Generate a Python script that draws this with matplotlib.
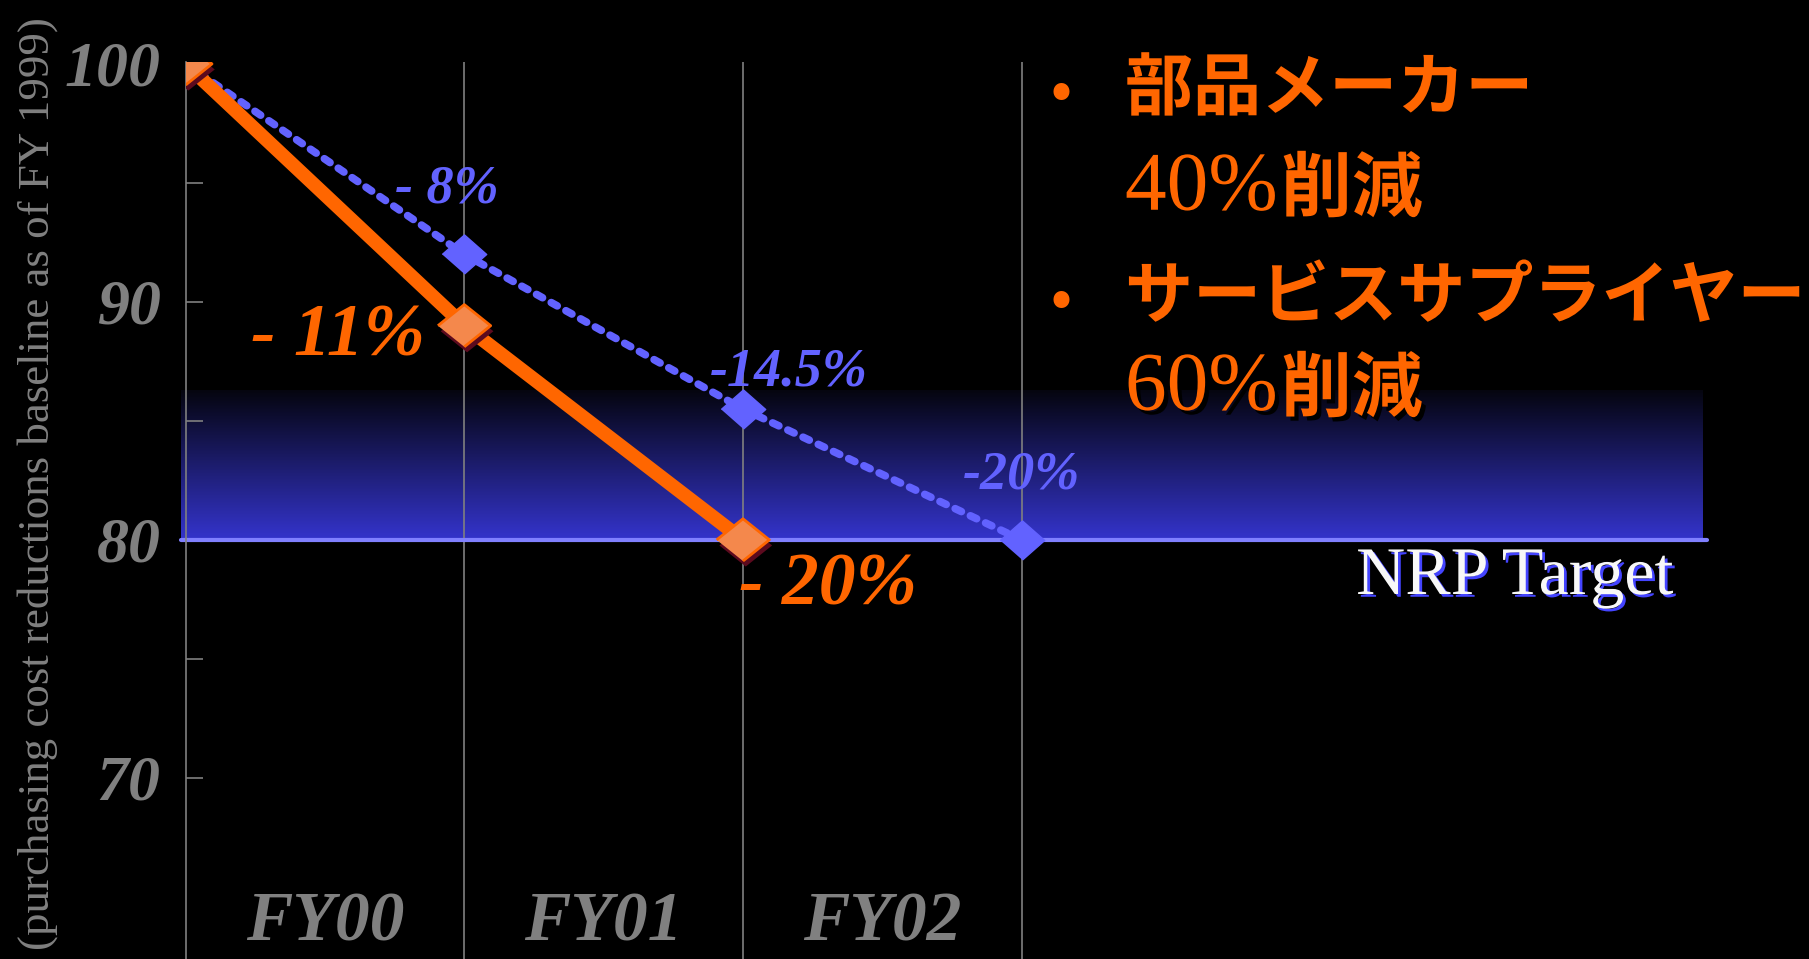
import numpy as np
import matplotlib.pyplot as plt
import matplotlib.patheffects as pe
from matplotlib.colors import LinearSegmentedColormap

# data
x_pos = [0, 1, 2, 3]
fy_labels = ['FY00', 'FY01', 'FY02']
parts_vals = [100, 89, 80]
svc_vals = [100, 92, 85.5, 80]
parts_labels = ['', '- 11%', '- 20%']
svc_labels = ['', '- 8%', '-14.5%', '-20%']
target = 80
band_top = 86.3
yticks = [70, 80, 90, 100]
yminor = [75, 85, 95]

ORANGE = '#ff6600'
BLUE = '#6262ff'
GRAY = '#808080'
SERIF = 'Liberation Serif'
CJK = 'Noto Sans CJK JP'

W, H = 1809, 959
fig = plt.figure(figsize=(W / 100, H / 100), dpi=100, facecolor='black')
ax = fig.add_axes([185.6 / W, 0, (1707 - 185.6) / W, 897 / H])
ax.set_facecolor('black')
ax.set_xlim(0, 5.459)
ax.set_ylim(62.39, 100.08)

for s in ['top', 'right', 'bottom']:
    ax.spines[s].set_visible(False)
ax.spines['left'].set_color(GRAY)
ax.spines['left'].set_linewidth(1.2)

# gradient band above target
cmap = LinearSegmentedColormap.from_list('band', ['#3434cc', '#05050f'])
grad = np.linspace(0, 1, 256).reshape(-1, 1)
ax.imshow(grad, cmap=cmap, aspect='auto', origin='lower',
          extent=[-0.016, 5.445, target, band_top], zorder=0, clip_on=False)
ax.hlines(target, -0.016, 5.46, color='#8080ff', lw=3, zorder=1,
          capstyle='round', clip_on=False)

# vertical grid lines
ax.set_xticks(x_pos[1:])
ax.set_xticklabels([])
ax.tick_params(axis='x', length=0)
ax.grid(True, axis='x', color=GRAY, lw=1.2)
ax.set_axisbelow(True)

ax.set_yticks(yticks)
ax.set_yticks(yminor, minor=True)
ax.set_yticklabels([str(v) for v in yticks])
ax.tick_params(axis='y', which='both', direction='in', length=12, width=1.2,
               color=GRAY, pad=18)
for lab in ax.get_yticklabels():
    lab.set_fontfamily(SERIF)
    lab.set_fontsize(46)
    lab.set_fontweight('bold')
    lab.set_fontstyle('italic')
    lab.set_color(GRAY)

ax.set_ylabel('(purchasing cost reductions baseline as of FY 1999)',
              family=SERIF, fontsize=32.3, color=GRAY)
ax.yaxis.set_label_coords(-0.084, 0.530)

# lines
ax.plot(x_pos, svc_vals, color=BLUE, lw=5.5, dashes=(0.9, 1.3),
        dash_capstyle='round', zorder=3)
ax.plot(x_pos, svc_vals, ls='none', marker=[(-1, 0), (0, 0.88), (1, 0), (0, -0.88)],
        ms=32, color=BLUE, mec=BLUE, zorder=4)
ax.plot(x_pos[:3], parts_vals, color=ORANGE, lw=10, zorder=5,
        solid_capstyle='butt')
ax.plot(x_pos[:3], parts_vals, ls='none', marker=[(-1, 0), (0, 0.8), (1, 0), (0, -0.8)],
        ms=38, mfc='#f4884c', mec=ORANGE, mew=2, zorder=6,
        path_effects=[pe.SimplePatchShadow(offset=(2, -4), shadow_rgbFace='#5c0a1e',
                                           alpha=1), pe.Normal()])

# data labels
svc_off = [None, (-17, 65), (46, 36), (0, 64)]
for x, y, t, o in zip(x_pos, svc_vals, svc_labels, svc_off):
    if t:
        ax.annotate(t, (x, y), xytext=o, textcoords='offset pixels', ha='center',
                    va='center', family=SERIF, fontsize=39, weight='bold',
                    style='italic', color=BLUE, zorder=7)
parts_off = [None, (-126, -12), (85, -47)]
for x, y, t, o in zip(x_pos, parts_vals, parts_labels, parts_off):
    if t:
        ax.annotate(t, (x, y), xytext=o, textcoords='offset pixels', ha='center',
                    va='center', family=SERIF, fontsize=53, weight='bold',
                    style='italic', color=ORANGE, zorder=7)

for i, t in enumerate(fy_labels):
    ax.text(i + 0.5, 63.9, t, ha='center', va='center', family=SERIF, fontsize=50,
            weight='bold', style='italic', color=GRAY)

shadow_blue = [pe.SimplePatchShadow(offset=(2, -2), shadow_rgbFace='#4444ff', alpha=1),
               pe.Normal()]
fig.text(1673 / W, 1 - 594 / H, 'NRP Target', ha='right', va='baseline', family=SERIF,
         fontsize=49, color='#f8f8f8', path_effects=shadow_blue)

# right side bullet text
shadow_blk = [pe.SimplePatchShadow(offset=(3, -3), shadow_rgbFace='black', alpha=1),
              pe.Normal()]
lines = [('部品メーカー', 90, '40%', 190), ('サービスサプライヤー', 298, '60%', 390)]
for head, yh, pct, yp in lines:
    fig.text(1061 / W, 1 - (yh + 2) / H, '•', ha='center', va='center', family=CJK,
             fontsize=40, weight='bold', color=ORANGE)
    fig.text(1125 / W, 1 - yh / H, head, ha='left', va='center', family=CJK,
             fontsize=49, weight='bold', color=ORANGE, path_effects=shadow_blk)
    fig.text(1125 / W, 1 - yp / H, pct, ha='left', va='center', family=SERIF,
             fontsize=60, color=ORANGE, path_effects=shadow_blk)
    fig.text(1281 / W, 1 - yp / H, '削減', ha='left', va='center', family=CJK,
             fontsize=51, weight='bold', color=ORANGE, path_effects=shadow_blk)

fig.savefig('out.png', dpi=100, facecolor='black')
